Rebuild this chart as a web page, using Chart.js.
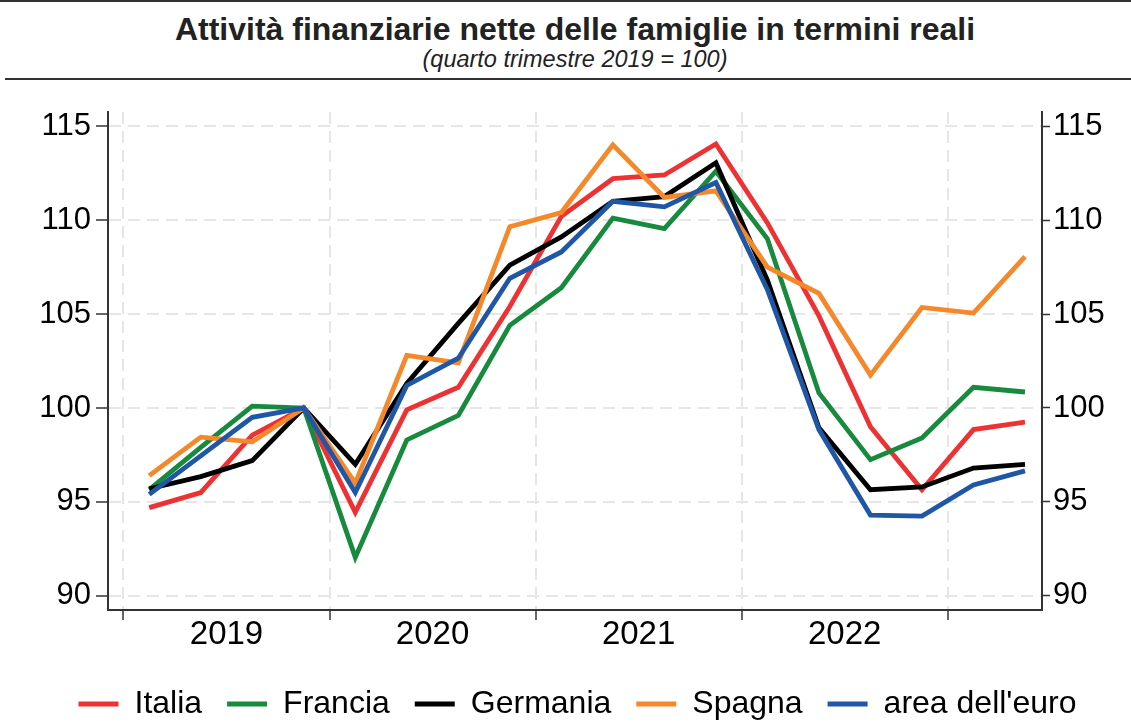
<!DOCTYPE html>
<html>
<head>
<meta charset="utf-8">
<script src="https://cdn.jsdelivr.net/npm/chart.js@4"></script>
<style>
  html, body { margin: 0; padding: 0; background: #fff; overflow: hidden; }
  body { width: 1131px; height: 722px; position: relative; font-family: "Liberation Sans", Arial, sans-serif; }
  #topLine { position: absolute; left: 0; top: 0; width: 1131px; height: 2px; background: #333; }
  #bottomLine { position: absolute; left: 5px; top: 78px; width: 1126px; height: 2px; background: #333; }
  #header { position: absolute; left: 19px; top: 0; width: 1112px; text-align: center; color: #222; }
  #title { position: absolute; top: 10px; width: 100%; font-size: 32px; font-weight: bold; line-height: 38px; }
  #subtitle { position: absolute; top: 45px; width: 100%; font-size: 23.5px; font-style: italic; line-height: 28px; }
  #wrap { position: absolute; left: 0; top: 80px; width: 1131px; height: 650px; }
</style>
</head>
<body>
<div id="topLine"></div>
<div id="header">
  <div id="title">Attività finanziarie nette delle famiglie in termini reali</div>
  <div id="subtitle">(quarto trimestre 2019 = 100)</div>
</div>
<div id="bottomLine"></div>
<div id="wrap"><canvas id="grafico"></canvas></div>
<script>
// trimestri dal 1° 2019 al 2° 2023
const trimestri = ['2019T1', '2019T2', '2019T3', '2019T4', '2020T1', '2020T2', '2020T3', '2020T4',
    '2021T1', '2021T2', '2021T3', '2021T4', '2022T1', '2022T2', '2022T3', '2022T4', '2023T1', '2023T2'];
const anni = ['2019', '2020', '2021', '2022'];
const yTicks = [90, 95, 100, 105, 110, 115];

const italia = [94.7, 95.5, 98.55, 100, 94.45, 99.9, 101.1, 105.4, 110.2, 112.2, 112.4, 114.05, 109.85, 104.9, 99.0, 95.65, 98.85, 99.25];
const francia = [95.65, 97.9, 100.1, 100, 92.05, 98.3, 99.6, 104.4, 106.4, 110.1, 109.55, 112.6, 109.0, 100.8, 97.25, 98.4, 101.1, 100.85];
const germania = [95.7, 96.35, 97.2, 100, 97.0, 101.3, 104.5, 107.6, 109.1, 111.0, 111.25, 113.05, 106.8, 98.95, 95.65, 95.8, 96.8, 97.0];
const spagna = [96.4, 98.45, 98.2, 100, 96.0, 102.8, 102.4, 109.65, 110.4, 114.0, 111.2, 111.55, 107.5, 106.1, 101.75, 105.35, 105.05, 108.05];
const euro = [95.4, 97.45, 99.5, 100, 95.5, 101.2, 102.65, 106.9, 108.3, 111.0, 110.7, 112.0, 106.3, 98.85, 94.3, 94.25, 95.9, 96.65];

const punti = (serie) => serie.map((v, i) => ({ x: i, y: v }));
const serie = (label, data, colore, ordine) => ({
    label,
    data: punti(data),
    borderColor: colore,
    backgroundColor: colore,
    borderWidth: 4.8,
    pointRadius: 0,
    tension: 0,
    order: ordine
});

const grigio = '#e6e6e6';
const assi = '#333';
// confini tra gli anni: -0.5, 3.5, ... ; etichette a metà anno
const confine = (v) => Math.abs(((v + 0.5) % 4)) < 0.01;

new Chart(document.getElementById('grafico'), {
    type: 'line',
    data: {
        datasets: [
            serie('Italia', italia, '#ee3233', 5),
            serie('Francia', francia, '#178a3e', 4),
            serie('Germania', germania, '#000000', 3),
            serie('Spagna', spagna, '#f5882a', 2),
            serie("area dell'euro", euro, '#1f56a5', 1)
        ]
    },
    options: {
        responsive: true,
        maintainAspectRatio: false,
        animation: false,
        events: [],
        // padding sinistro per spostare la legenda verso destra
        layout: { padding: { top: 32, left: 24, right: 0, bottom: 0 } },
        scales: {
            x: {
                type: 'linear',
                min: -0.8,
                max: 17.33,
                afterBuildTicks: (scale) => {
                    const t = [];
                    for (let v = -0.5; v <= 15.5; v += 2) t.push({ value: v });
                    scale.ticks = t;
                },
                // la legenda è alta 67px (32 + 25 + 10): l'asse chiude l'area a 530
                afterFit: (scale) => { scale.height = 53; },
                ticks: {
                    autoSkip: false,
                    maxRotation: 0,
                    padding: -2,
                    color: '#000',
                    font: { family: 'Liberation Sans', size: 33, lineHeight: 1 },
                    callback: (v) => confine(v) ? '' : anni[Math.round((v - 1.5) / 4)]
                },
                grid: {
                    color: (c) => confine(c.tick.value) ? grigio : 'rgba(0,0,0,0)',
                    lineWidth: 2,
                    tickColor: (c) => confine(c.tick.value) ? assi : 'rgba(0,0,0,0)',
                    tickLength: 10,
                    tickWidth: 1.5
                },
                border: { color: assi, width: 2, dash: [12, 7] }
            },
            y: {
                position: 'left',
                min: 89.25,
                max: 115.75,
                afterBuildTicks: (scale) => { scale.ticks = yTicks.map(v => ({ value: v })); },
                afterFit: (scale) => { scale.width = 84; },
                ticks: {
                    padding: 5,
                    color: '#000',
                    font: { family: 'Liberation Sans', size: 31 }
                },
                grid: {
                    color: grigio,
                    lineWidth: 2,
                    tickColor: assi,
                    tickLength: 12,
                    tickWidth: 1.5
                },
                border: { color: assi, width: 2, dash: [12, 7] }
            },
            y2: {
                position: 'right',
                min: 89.25,
                max: 115.75,
                afterBuildTicks: (scale) => { scale.ticks = yTicks.map(v => ({ value: v })); },
                afterFit: (scale) => { scale.width = 89; },
                ticks: {
                    padding: 3,
                    color: '#000',
                    font: { family: 'Liberation Sans', size: 31 }
                },
                grid: {
                    drawOnChartArea: false,
                    tickColor: assi,
                    tickLength: 8,
                    tickWidth: 1.5
                },
                border: { color: assi, width: 2 }
            }
        },
        plugins: {
            tooltip: { enabled: false },
            legend: {
                position: 'bottom',
                labels: {
                    boxWidth: 40,
                    boxHeight: 5,
                    padding: 25,
                    color: '#000',
                    font: { family: 'Liberation Sans', size: 32 },
                    generateLabels: (chart) => chart.data.datasets.map((ds, i) => ({
                        text: ds.label,
                        fillStyle: ds.borderColor,
                        strokeStyle: ds.borderColor,
                        lineWidth: 0,
                        hidden: false,
                        datasetIndex: i
                    }))
                }
            }
        }
    }
});
</script>
</body>
</html>
